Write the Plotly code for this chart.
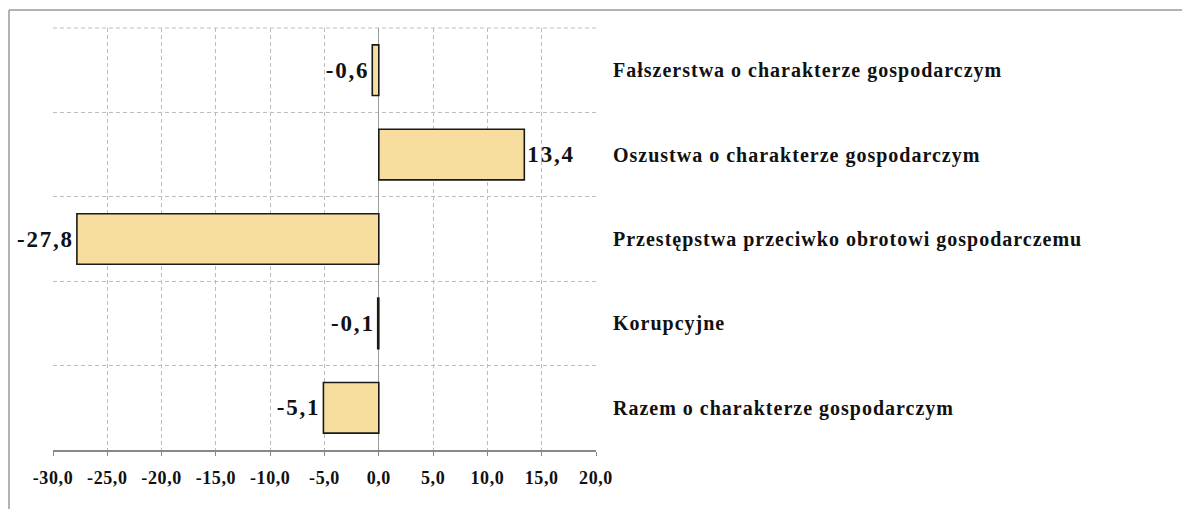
import plotly.graph_objects as go

categories = [
    "Fałszerstwa o charakterze gospodarczym",
    "Oszustwa o charakterze gospodarczym",
    "Przestępstwa przeciwko obrotowi gospodarczemu",
    "Korupcyjne",
    "Razem o charakterze gospodarczym",
]
values = [-0.6, 13.4, -27.8, -0.1, -5.1]
x_ticks = [-30, -25, -20, -15, -10, -5, 0, 5, 10, 15, 20]
grid_ticks = [-30, -25, -20, -15, -10, -5, 0, 5, 10, 15]

SERIF = "Liberation Serif, Times New Roman, serif"

def spaced(t, ls):
    return f"<span style='letter-spacing:{ls}px'>{t}</span>"

fig = go.Figure(
    go.Bar(
        x=values,
        y=categories,
        orientation="h",
        marker=dict(color="#F8DE9E", line=dict(color="#1a1a1a", width=1.6)),
        width=0.6,
        text=[spaced(f"{v:.1f}".replace(".", ","), 1.8) for v in values],
        textposition="outside",
        textfont=dict(family=SERIF, size=23, color="#111111", weight="bold"),
        constraintext="none",
        cliponaxis=False,
        hoverinfo="skip",
    )
)

# page body has an 8px margin; compensate
OFF = 8
W, H = 1190 - OFF, 509 - OFF
L, T = 53 - OFF, 28 - OFF
R = W - (596 - OFF)
B = H - (450 - OFF)
pw, ph = W - L - R, H - T - B

grid_style = dict(color="#BDBDBD", width=1, dash="4px,3px")
border_style = dict(color="#9a9a9a", width=1.5)
bx = (1 - L) / pw
by = 1 + (T - (10 - OFF)) / ph

fig.update_layout(
    width=W,
    height=H,
    margin=dict(l=L, r=R, t=T, b=B, pad=0, autoexpand=False),
    plot_bgcolor="white",
    paper_bgcolor="white",
    separators=", ",
    showlegend=False,
    xaxis=dict(
        range=[-30, 20],
        tickvals=x_ticks,
        ticktext=[spaced(f"{v:.1f}".replace(".", ","), 0.6) for v in x_ticks],
        showgrid=False,
        minor=dict(
            tickvals=grid_ticks,
            showgrid=True,
            gridcolor="#BDBDBD",
            gridwidth=1,
            griddash="4px,3px",
            ticks="",
        ),
        zeroline=True,
        zerolinecolor="#9a9a9a",
        zerolinewidth=1,
        showline=True,
        linecolor="#888888",
        linewidth=1.5,
        ticks="outside",
        ticklen=4,
        tickcolor="#888888",
        ticklabelstandoff=7,
        tickfont=dict(family=SERIF, size=18, color="#111111", weight="bold"),
        fixedrange=True,
    ),
    yaxis=dict(
        type="category",
        categoryorder="array",
        categoryarray=categories,
        autorange="reversed",
        side="right",
        tickvals=categories,
        ticktext=[spaced(c, 1.0) for c in categories],
        tickson="boundaries",
        showgrid=True,
        gridcolor="#BDBDBD",
        gridwidth=1,
        griddash="4px,3px",
        ticks="",
        showline=False,
        zeroline=False,
        ticklabelstandoff=16,
        tickfont=dict(family=SERIF, size=20, color="#111111", weight="bold"),
        fixedrange=True,
    ),
    shapes=[
        dict(type="line", xref="paper", yref="paper",
             x0=0, x1=1, y0=1, y1=1, line=grid_style, layer="below"),
        dict(type="line", xref="paper", yref="paper",
             x0=bx, x1=(W + 50 - L) / pw, y0=by, y1=by,
             line=border_style, layer="below"),
        dict(type="line", xref="paper", yref="paper",
             x0=bx, x1=bx, y0=by, y1=1 - (H + 50 - T) / ph,
             line=border_style, layer="below"),
    ],
)

fig.write_html("out.html")
